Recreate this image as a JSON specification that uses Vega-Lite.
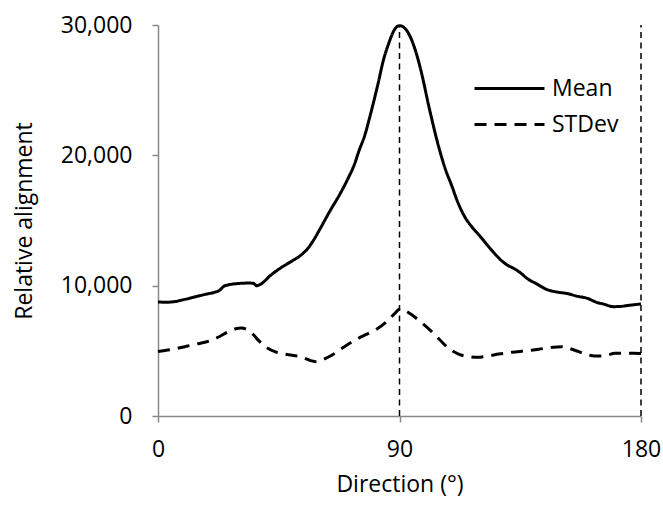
{
  "$schema": "https://vega.github.io/schema/vega-lite/v6.json",
  "width": 483,
  "height": 391,
  "autosize": {"type": "none"},
  "padding": {"left": 158, "top": 25, "right": 22, "bottom": 89},
  "background": "white",
  "config": {
    "view": {"stroke": null},
    "font": "Open Sans",
    "axis": {
      "domainColor": "#898989",
      "domainWidth": 1.5,
      "tickColor": "#898989",
      "tickWidth": 1.5,
      "tickSize": 6,
      "grid": false,
      "labelFont": "Open Sans",
      "labelFontSize": 23,
      "labelColor": "#000000",
      "titleFont": "Open Sans",
      "titleFontSize": 23,
      "titleFontWeight": "normal",
      "titleColor": "#000000"
    }
  },
  "datasets": {
    "curves": [
      {"dir": 0, "value": 8750, "series": "Mean"},
      {"dir": 3, "value": 8730, "series": "Mean"},
      {"dir": 6, "value": 8770, "series": "Mean"},
      {"dir": 10, "value": 8950, "series": "Mean"},
      {"dir": 14, "value": 9150, "series": "Mean"},
      {"dir": 18, "value": 9350, "series": "Mean"},
      {"dir": 21, "value": 9490, "series": "Mean"},
      {"dir": 23, "value": 9650, "series": "Mean"},
      {"dir": 24.5, "value": 9950, "series": "Mean"},
      {"dir": 26, "value": 10050, "series": "Mean"},
      {"dir": 29, "value": 10150, "series": "Mean"},
      {"dir": 31, "value": 10180, "series": "Mean"},
      {"dir": 34, "value": 10200, "series": "Mean"},
      {"dir": 35.5, "value": 10180, "series": "Mean"},
      {"dir": 36.8, "value": 10000, "series": "Mean"},
      {"dir": 38.5, "value": 10150, "series": "Mean"},
      {"dir": 42, "value": 10800, "series": "Mean"},
      {"dir": 46, "value": 11400, "series": "Mean"},
      {"dir": 50, "value": 11900, "series": "Mean"},
      {"dir": 53, "value": 12300, "series": "Mean"},
      {"dir": 56, "value": 12900, "series": "Mean"},
      {"dir": 58, "value": 13500, "series": "Mean"},
      {"dir": 60.5, "value": 14400, "series": "Mean"},
      {"dir": 64, "value": 15700, "series": "Mean"},
      {"dir": 68, "value": 17100, "series": "Mean"},
      {"dir": 71, "value": 18300, "series": "Mean"},
      {"dir": 73, "value": 19200, "series": "Mean"},
      {"dir": 75, "value": 20400, "series": "Mean"},
      {"dir": 77, "value": 21500, "series": "Mean"},
      {"dir": 79, "value": 23000, "series": "Mean"},
      {"dir": 80, "value": 23800, "series": "Mean"},
      {"dir": 82, "value": 25500, "series": "Mean"},
      {"dir": 84, "value": 27300, "series": "Mean"},
      {"dir": 86, "value": 28600, "series": "Mean"},
      {"dir": 88, "value": 29600, "series": "Mean"},
      {"dir": 90, "value": 29950, "series": "Mean"},
      {"dir": 92, "value": 29750, "series": "Mean"},
      {"dir": 94, "value": 29100, "series": "Mean"},
      {"dir": 96, "value": 28000, "series": "Mean"},
      {"dir": 98, "value": 26500, "series": "Mean"},
      {"dir": 101, "value": 23700, "series": "Mean"},
      {"dir": 104.6, "value": 20660, "series": "Mean"},
      {"dir": 107, "value": 19000, "series": "Mean"},
      {"dir": 109.6, "value": 17600, "series": "Mean"},
      {"dir": 111.4, "value": 16570, "series": "Mean"},
      {"dir": 114, "value": 15400, "series": "Mean"},
      {"dir": 117, "value": 14500, "series": "Mean"},
      {"dir": 120, "value": 13800, "series": "Mean"},
      {"dir": 124, "value": 12800, "series": "Mean"},
      {"dir": 127.6, "value": 12000, "series": "Mean"},
      {"dir": 130, "value": 11600, "series": "Mean"},
      {"dir": 132.5, "value": 11330, "series": "Mean"},
      {"dir": 135, "value": 11000, "series": "Mean"},
      {"dir": 137.5, "value": 10560, "series": "Mean"},
      {"dir": 141, "value": 10150, "series": "Mean"},
      {"dir": 145, "value": 9700, "series": "Mean"},
      {"dir": 149, "value": 9500, "series": "Mean"},
      {"dir": 152.4, "value": 9400, "series": "Mean"},
      {"dir": 156, "value": 9200, "series": "Mean"},
      {"dir": 160, "value": 9030, "series": "Mean"},
      {"dir": 163.5, "value": 8720, "series": "Mean"},
      {"dir": 166, "value": 8590, "series": "Mean"},
      {"dir": 169.8, "value": 8390, "series": "Mean"},
      {"dir": 172, "value": 8400, "series": "Mean"},
      {"dir": 175, "value": 8480, "series": "Mean"},
      {"dir": 178, "value": 8550, "series": "Mean"},
      {"dir": 180, "value": 8600, "series": "Mean"},
      {"dir": 0, "value": 4950, "series": "STDev"},
      {"dir": 5, "value": 5100, "series": "STDev"},
      {"dir": 10, "value": 5320, "series": "STDev"},
      {"dir": 15, "value": 5550, "series": "STDev"},
      {"dir": 19, "value": 5750, "series": "STDev"},
      {"dir": 23, "value": 6100, "series": "STDev"},
      {"dir": 26, "value": 6450, "series": "STDev"},
      {"dir": 29, "value": 6700, "series": "STDev"},
      {"dir": 31, "value": 6750, "series": "STDev"},
      {"dir": 33, "value": 6650, "series": "STDev"},
      {"dir": 35, "value": 6350, "series": "STDev"},
      {"dir": 37, "value": 5900, "series": "STDev"},
      {"dir": 40, "value": 5320, "series": "STDev"},
      {"dir": 44, "value": 4900, "series": "STDev"},
      {"dir": 48.7, "value": 4700, "series": "STDev"},
      {"dir": 53, "value": 4550, "series": "STDev"},
      {"dir": 58.6, "value": 4170, "series": "STDev"},
      {"dir": 61, "value": 4300, "series": "STDev"},
      {"dir": 64.9, "value": 4680, "series": "STDev"},
      {"dir": 69, "value": 5250, "series": "STDev"},
      {"dir": 73.5, "value": 5830, "series": "STDev"},
      {"dir": 77, "value": 6200, "series": "STDev"},
      {"dir": 81, "value": 6600, "series": "STDev"},
      {"dir": 85, "value": 7200, "series": "STDev"},
      {"dir": 88.4, "value": 7900, "series": "STDev"},
      {"dir": 90.3, "value": 8250, "series": "STDev"},
      {"dir": 92, "value": 8100, "series": "STDev"},
      {"dir": 94.7, "value": 7750, "series": "STDev"},
      {"dir": 98, "value": 7200, "series": "STDev"},
      {"dir": 102, "value": 6470, "series": "STDev"},
      {"dir": 105, "value": 5850, "series": "STDev"},
      {"dir": 108.3, "value": 5190, "series": "STDev"},
      {"dir": 112, "value": 4750, "series": "STDev"},
      {"dir": 115.8, "value": 4550, "series": "STDev"},
      {"dir": 119, "value": 4500, "series": "STDev"},
      {"dir": 123, "value": 4600, "series": "STDev"},
      {"dir": 127, "value": 4750, "series": "STDev"},
      {"dir": 131.9, "value": 4890, "series": "STDev"},
      {"dir": 137, "value": 5000, "series": "STDev"},
      {"dir": 141.9, "value": 5120, "series": "STDev"},
      {"dir": 146, "value": 5250, "series": "STDev"},
      {"dir": 150.6, "value": 5320, "series": "STDev"},
      {"dir": 153, "value": 5200, "series": "STDev"},
      {"dir": 156.8, "value": 4935, "series": "STDev"},
      {"dir": 160, "value": 4700, "series": "STDev"},
      {"dir": 164.2, "value": 4600, "series": "STDev"},
      {"dir": 167, "value": 4650, "series": "STDev"},
      {"dir": 170.4, "value": 4810, "series": "STDev"},
      {"dir": 174, "value": 4820, "series": "STDev"},
      {"dir": 177.3, "value": 4810, "series": "STDev"},
      {"dir": 180, "value": 4800, "series": "STDev"}
    ],
    "markers": [
      {"dir": 90},
      {"dir": 180}
    ]
  },
  "layer": [
    {
      "data": {"name": "curves"},
      "mark": {"type": "line", "color": "black", "strokeWidth": 3, "interpolate": "monotone"},
      "encoding": {
        "x": {
          "field": "dir",
          "type": "quantitative",
          "scale": {"domain": [0, 180], "nice": false},
          "axis": {"values": [0, 90, 180], "title": "Direction (°)", "labelFlush": false, "labelPadding": 16, "titlePadding": 12}
        },
        "y": {
          "field": "value",
          "type": "quantitative",
          "scale": {"domain": [0, 30000], "nice": false},
          "axis": {"values": [0, 10000, 20000, 30000], "format": ",.0f", "title": "Relative alignment", "labelPadding": 20, "titlePadding": 24}
        },
        "strokeDash": {
          "field": "series",
          "type": "nominal",
          "scale": {"domain": ["Mean", "STDev"], "range": [[1, 0], [12, 8]]},
          "legend": {
            "title": null,
            "orient": "none",
            "legendX": 340,
            "legendY": 52,
            "padding": 0,
            "symbolType": "M-5,0H5",
            "symbolSize": 196,
            "symbolStrokeWidth": 3,
            "symbolStrokeColor": "black",
            "labelFont": "Open Sans",
            "labelFontSize": 23,
            "labelColor": "black",
            "labelOffset": 31,
            "rowPadding": 12
          }
        }
      }
    },
    {
      "data": {"name": "markers"},
      "mark": {"type": "rule", "color": "black", "strokeWidth": 1.5, "strokeDash": [6, 4.5]},
      "encoding": {
        "x": {"field": "dir", "type": "quantitative"},
        "y": {"datum": 0, "type": "quantitative"},
        "y2": {"datum": 30000}
      }
    }
  ]
}
